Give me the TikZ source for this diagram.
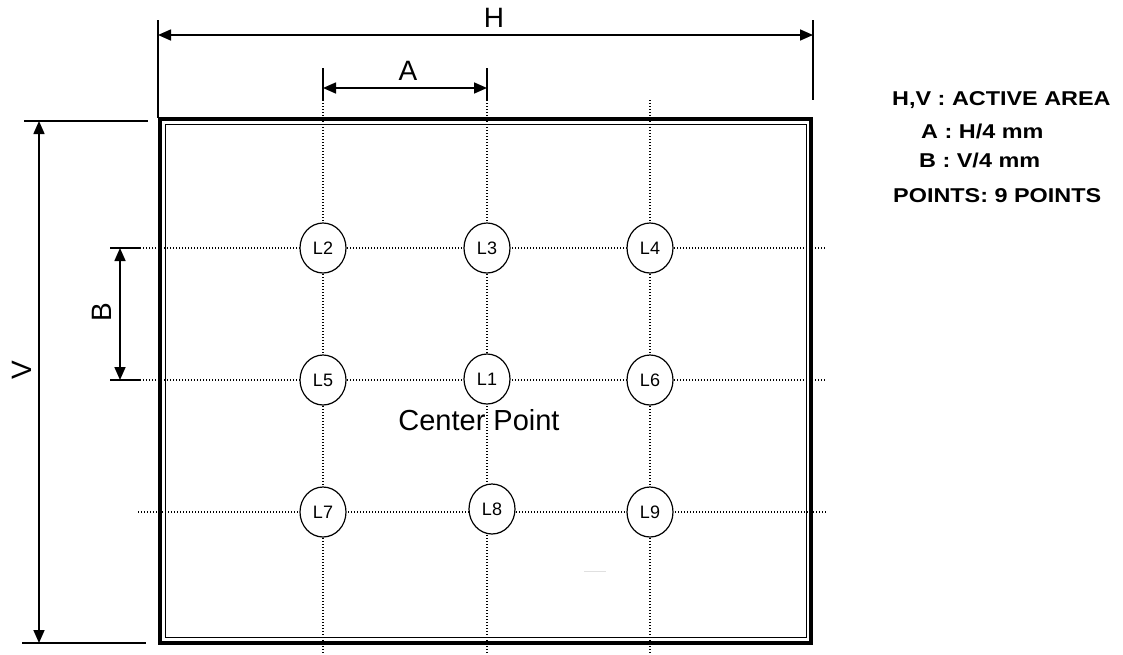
\documentclass[tikz,border=0pt]{standalone}
\usepackage{fontspec}
\setmainfont{Liberation Sans}
\usetikzlibrary{arrows.meta,shapes.geometric}
\tikzset{
  dimline/.style={line width=1.6pt,{Triangle[length=13pt,width=11pt]}-{Triangle[length=13pt,width=11pt]}},
  extline/.style={line width=1.3pt},
  gridline/.style={line width=1.2pt,dash pattern=on 1.1pt off 1.9pt},
  pointnode/.style={ellipse,draw,line width=1.2pt,fill=white,minimum width=46pt,minimum height=50pt,inner sep=0pt,font=\fontsize{18}{21}\selectfont},
  biglabel/.style={font=\fontsize{28}{32}\selectfont,inner sep=0pt},
  notetext/.style={anchor=west,inner sep=0pt,font=\fontsize{20}{24}\selectfont\bfseries}
}
\begin{document}
\begin{tikzpicture}[x=1pt,y=-1pt]
\useasboundingbox (0,0) rectangle (1123,654);
% frame
\draw[line width=4pt] (160,119) rectangle (810.5,643);
\draw[line width=1.2pt] (165.3,124.5) rectangle (806.5,637.7);
% grid coordinates
\coordinate (v1t) at (323,100); \coordinate (v1b) at (323,654);
\coordinate (v2t) at (487,100); \coordinate (v2b) at (487,654);
\coordinate (v3t) at (650,100); \coordinate (v3b) at (650,654);
\coordinate (h1l) at (140,248); \coordinate (h1r) at (826,248);
\coordinate (h2l) at (140,380); \coordinate (h2r) at (826,380);
\coordinate (h3l) at (138,512); \coordinate (h3r) at (826,512);
\draw[gridline] (v1t) -- (v1b);
\draw[gridline] (v2t) -- (v2b);
\draw[gridline] (v3t) -- (v3b);
\draw[gridline] (h1l) -- (h1r);
\draw[gridline] (h2l) -- (h2r);
\draw[gridline] (h3l) -- (h3r);
% points
\node[pointnode] (L2) at (323,248) {L2};
\node[pointnode] (L3) at (487,248) {L3};
\node[pointnode] (L4) at (650,248) {L4};
\node[pointnode] (L5) at (323,380) {L5};
\node[pointnode] (L1) at (487,379) {L1};
\node[pointnode] (L6) at (650,380) {L6};
\node[pointnode] (L7) at (323,512) {L7};
\node[pointnode] (L8) at (492,509) {L8};
\node[pointnode] (L9) at (650,512) {L9};
\node[font=\fontsize{29}{33}\selectfont,inner sep=0pt] (cp) at (479,420) {Center Point};
% faint mark
\draw[black!12,line width=1pt] (584,571) -- (606,571);
% H dimension
\coordinate (Hlt) at (158,20); \coordinate (Hlb) at (158,118);
\coordinate (Hrt) at (813,20); \coordinate (Hrb) at (813,100);
\draw[extline] (Hlt) -- (Hlb);
\draw[extline] (Hrt) -- (Hrb);
\coordinate (Ha) at (158,35); \coordinate (Hb) at (813,35);
\draw[dimline] (Ha) -- (Hb);
\node[biglabel] (Hlab) at (494,18) {H};
% A dimension
\coordinate (Alt) at (323,68); \coordinate (Alb) at (323,100);
\coordinate (Art) at (487,68); \coordinate (Arb) at (487,100);
\draw[extline] (Alt) -- (Alb);
\draw[extline] (Art) -- (Arb);
\coordinate (Aa) at (323,88); \coordinate (Ab) at (487,88);
\draw[dimline] (Aa) -- (Ab);
\node[biglabel] (Alab) at (408,71) {A};
% V dimension
\coordinate (Vtl) at (24,121); \coordinate (Vtr) at (148,121);
\coordinate (Vbl) at (22,643); \coordinate (Vbr) at (146,643);
\draw[extline] (Vtl) -- (Vtr);
\draw[extline] (Vbl) -- (Vbr);
\coordinate (Va) at (39,121); \coordinate (Vb) at (39,643);
\draw[dimline] (Va) -- (Vb);
\node[biglabel,rotate=90] (Vlab) at (22,370) {V};
% B dimension
\coordinate (Btl) at (110,248); \coordinate (Btr) at (140,248);
\coordinate (Bbl) at (110,380); \coordinate (Bbr) at (140,380);
\draw[extline] (Btl) -- (Btr);
\draw[extline] (Bbl) -- (Bbr);
\coordinate (Ba) at (120,248); \coordinate (Bb) at (120,380);
\draw[dimline] (Ba) -- (Bb);
\node[biglabel,rotate=90] (Blab) at (102,312) {B};
% notes
\node[notetext] (n1) at (892,100) {\scalebox{1.17}[1]{H,V : ACTIVE AREA}};
\node[notetext] (n2) at (921,131) {\scalebox{1.17}[1]{A : H/4 mm}};
\node[notetext] (n3) at (919,160) {\scalebox{1.17}[1]{B : V/4 mm}};
\node[notetext] (n4) at (893,196) {\scalebox{1.17}[1]{POINTS: 9 POINTS}};
\end{tikzpicture}
\end{document}
